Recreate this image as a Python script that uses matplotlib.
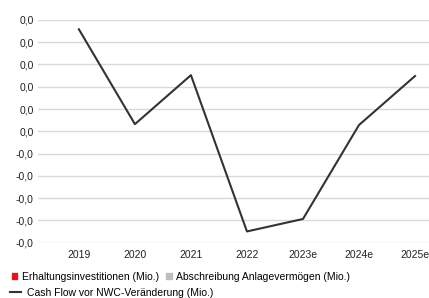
import matplotlib.pyplot as plt
from matplotlib.patches import Patch
from matplotlib.lines import Line2D
from matplotlib.ticker import FuncFormatter

plt.rcParams['font.family'] = ['Liberation Sans', 'DejaVu Sans']

years = ['2019', '2020', '2021', '2022', '2023e', '2024e', '2025e']
cash_flow = [0.0229, 0.0016, 0.0126, -0.0225, -0.0197, 0.0014, 0.0124]
y_ticks = [-0.025, -0.02, -0.015, -0.01, -0.005, 0.0, 0.005, 0.01, 0.015, 0.02, 0.025]

fig = plt.figure(figsize=(4.29, 2.98), dpi=100)
ax = fig.add_axes([0.0886, 0.186, 0.9114, 0.747])

x = list(range(len(years)))
ax.plot(x, cash_flow, color='#333333', lw=1.5, zorder=3)

ax.set_ylim(-0.025, 0.025)
ax.set_xlim(-0.73, 6.25)
ax.set_yticks(y_ticks)
ax.yaxis.set_major_formatter(FuncFormatter(lambda v, p: ('%.1f' % v).replace('.', ',')))
ax.set_xticks(x)
ax.set_xticklabels(years)
ax.grid(axis='y', color='#d9d9d9', lw=1)
ax.set_axisbelow(True)
for s in ax.spines.values():
    s.set_visible(False)
ax.tick_params(length=0, labelsize=7.5, colors='#222222')
ax.tick_params(axis='y', pad=3)
ax.tick_params(axis='x', pad=5)

h1 = [Patch(color='#e8141c'), Patch(color='#bdbdbd')]
l1 = ['Erhaltungsinvestitionen (Mio.)', 'Abschreibung Anlagevermögen (Mio.)']
fig.legend(h1, l1, loc='center left', bbox_to_anchor=(0.027, 0.071), ncol=2,
           frameon=False, fontsize=7.5, handlelength=0.54, handleheight=0.54,
           handletextpad=0.45, columnspacing=0.67, borderaxespad=0, borderpad=0)
h2 = [Line2D([0], [0], color='#333333', lw=1.5)]
l2 = ['Cash Flow vor NWC-Veränderung (Mio.)']
fig.legend(h2, l2, loc='center left', bbox_to_anchor=(0.023, 0.018),
           frameon=False, fontsize=7.5, handlelength=1.06, handletextpad=0.58,
           borderaxespad=0, borderpad=0)

fig.savefig('out.png', dpi=100)
